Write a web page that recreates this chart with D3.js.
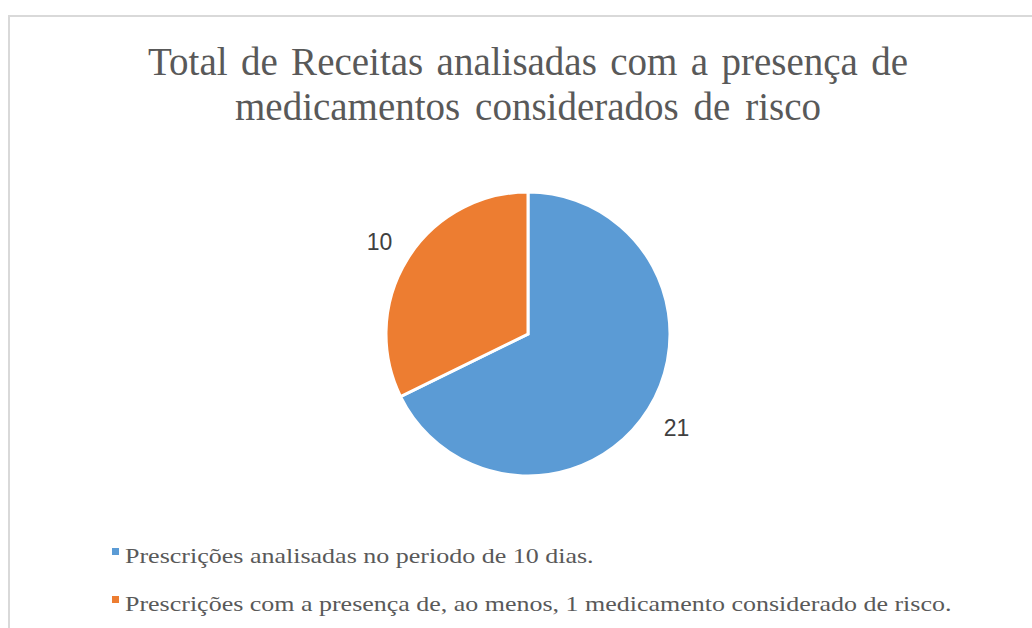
<!DOCTYPE html>
<html>
<head>
<meta charset="utf-8">
<script src="https://cdn.jsdelivr.net/npm/d3@7"></script>
<style>
  body { margin: 0; background: #fff; }
  svg { display: block; }
</style>
</head>
<body>
<div id="chart"></div>
<script>
  // Data
  const categories = [
    "Prescrições analisadas no periodo de 10 dias.",
    "Prescrições com a presença de, ao menos, 1 medicamento considerado de risco."
  ];
  const values = [21, 10];
  const colors = ["#5b9bd5", "#ed7d31"];
  const titleLines = [
    "Total de Receitas analisadas com a presença de",
    "medicamentos considerados de risco"
  ];

  const width = 1032, height = 628;
  const cx = 528, cy = 334, radius = 142;

  const svg = d3.select("#chart").append("svg")
    .attr("width", width)
    .attr("height", height);

  // frame (only top + left edges show)
  svg.append("path")
    .attr("d", `M9,${height} L9,16 L${width},16`)
    .attr("fill", "none")
    .attr("stroke", "#d9d9d9")
    .attr("stroke-width", 2);

  // title
  const titleWidths = [760, 586];
  const title = svg.append("g");
  titleLines.forEach((line, i) => {
    const t = title.append("text")
      .attr("x", cx)
      .attr("y", 75 + i * 45)
      .attr("text-anchor", "middle")
      .attr("font-family", "'Liberation Serif', 'Times New Roman', serif")
      .attr("font-size", 39)
      .attr("fill", "#595959")
      .text(line);
    const natural = t.node().getComputedTextLength();
    const spaces = line.split(" ").length - 1;
    const extra = (titleWidths[i] - natural) / spaces;
    t.attr("word-spacing", extra);
  });

  // pie
  const pie = d3.pie().sort(null).value(d => d);
  const arc = d3.arc().innerRadius(0).outerRadius(radius);
  const arcs = pie(values);

  const g = svg.append("g").attr("transform", `translate(${cx},${cy})`);
  g.selectAll("path")
    .data(arcs)
    .enter()
    .append("path")
    .attr("d", arc)
    .attr("fill", (d, i) => colors[i])
    .attr("stroke", "#fff")
    .attr("stroke-width", 3)
    .attr("stroke-linejoin", "miter");

  // data labels, outside the slice
  const labelArc = d3.arc().innerRadius(radius + 33).outerRadius(radius + 33);
  g.selectAll("text")
    .data(arcs)
    .enter()
    .append("text")
    .attr("transform", d => {
      const [x, y] = labelArc.centroid(d);
      return `translate(${x},${y + 9})`;
    })
    .attr("text-anchor", "middle")
    .attr("font-family", "'Liberation Sans', Arial, sans-serif")
    .attr("font-size", 23)
    .attr("fill", "#404040")
    .text(d => d.data);

  // legend
  const legendWidths = [469, 827];
  const legend = svg.append("g");
  categories.forEach((c, i) => {
    const y = 563 + i * 48;
    legend.append("rect")
      .attr("x", 112)
      .attr("y", y - 15)
      .attr("width", 7)
      .attr("height", 7)
      .attr("fill", colors[i]);
    const t = legend.append("text")
      .attr("x", 0)
      .attr("y", 0)
      .attr("font-family", "'Liberation Serif', 'Times New Roman', serif")
      .attr("font-size", 21)
      .attr("fill", "#595959")
      .text(c);
    const sx = legendWidths[i] / t.node().getComputedTextLength();
    t.attr("transform", `translate(125,${y}) scale(${sx},1)`);
  });
</script>
</body>
</html>
